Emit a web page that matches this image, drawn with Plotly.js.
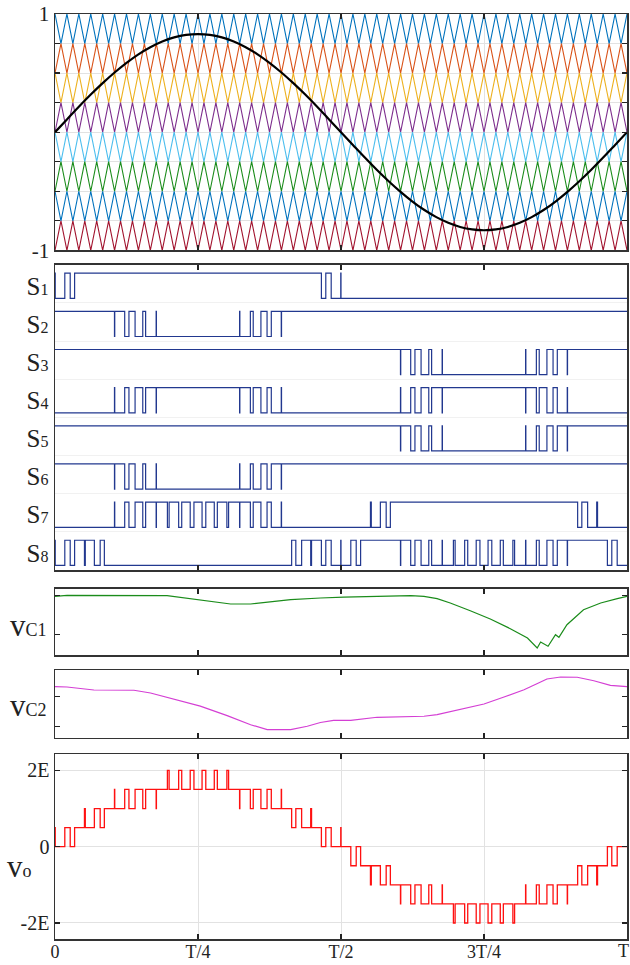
<!DOCTYPE html>
<html><head><meta charset="utf-8">
<script src="https://cdn.plot.ly/plotly-3.0.1.min.js"></script>
<style>body{margin:0;background:#fff}#chart{width:630px;height:965px}</style>
</head><body><div id="chart"></div>
<script>
// ---------- data ----------
const carrierCycles = 48;                       // carrier periods per fundamental period T
const carrierLow = [0.75, 0.5, 0.25, 0, -0.25, -0.5, -0.75, -1];
const carrierBottomPhase = [0.5, 0, 0.5, 0, 0.5, 0, 0.5, 0];   // where each carrier touches its lower edge
const carrierColors = ['#0072BD', '#D95319', '#EDB120', '#7E2F8E', '#4DBEEE', '#1b8c1b', '#0072BD', '#A2142F'];

// reference sine, one sample per carrier period (t = k/48)
const refValues = [0, .108, .215, .318, .415, .505, .587, .659, .719, .767, .802, .823, .830, .823, .802, .767, .719, .659, .587, .505, .415, .318, .215, .108, 0,
  -.108, -.215, -.318, -.415, -.505, -.587, -.659, -.719, -.767, -.802, -.823, -.830, -.823, -.802, -.767, -.719, -.659, -.587, -.505, -.415, -.318, -.215, -.108, 0];

// output voltage steps: [time in carrier periods, level in E]
const voSteps = [
 [0,0.5],[0.02,0],[0.822,0.5],[1.276,0],[1.646,0.5],[2.472,1],[2.542,0.5],[3.304,1],[3.791,0.5],[4.142,1],
 [4.991,1.5],[5.013,1],[5.849,1.5],[6.205,1],[6.72,1.5],[7.365,1],[7.605,1.5],[8.488,1],[8.51,1.5],
 [9.433,2],[9.577,1.5],[10.377,2],[10.634,1.5],[11.346,2],[11.659,1.5],[12.341,2],[12.654,1.5],[13.366,2],[13.623,1.5],[14.423,2],[14.567,1.5],
 [15.49,1],[15.512,1.5],[16.395,1],[16.635,1.5],[17.28,1],[17.795,1.5],[18.151,1],[18.987,1.5],[19.009,1],
 [19.858,0.5],[20.209,1],[20.696,0.5],[21.458,1],[21.528,0.5],[22.354,0],[22.724,0.5],[23.178,0],[23.98,0.5],[24.0,0],
 [24.822,-0.5],[25.276,0],[25.646,-0.5],[26.472,-1],[26.542,-0.5],[27.304,-1],[27.791,-0.5],[28.142,-1],
 [28.991,-1.5],[29.013,-1],[29.849,-1.5],[30.205,-1],[30.72,-1.5],[31.365,-1],[31.605,-1.5],[32.488,-1],[32.51,-1.5],
 [33.433,-2],[33.577,-1.5],[34.377,-2],[34.634,-1.5],[35.346,-2],[35.659,-1.5],[36.341,-2],[36.654,-1.5],[37.366,-2],[37.623,-1.5],[38.423,-2],[38.567,-1.5],
 [39.49,-1],[39.512,-1.5],[40.395,-1],[40.635,-1.5],[41.28,-1],[41.795,-1.5],[42.151,-1],[42.987,-1.5],[43.009,-1],
 [43.858,-0.5],[44.209,-1],[44.696,-0.5],[45.458,-1],[45.528,-0.5],[46.354,0],[46.724,-0.5],[47.178,0]
];

// switch states for every output level
const voLevelOrder = [2, 1.5, 1, 0.5, 0, -0.5, -1, -1.5, -2];
const switchNames = ['S1','S2','S3','S4','S5','S6','S7','S8'];
const switchStates = [
 [1,1,1,1,0,0,0,0,0],
 [0,0,1,1,1,1,1,1,1],
 [1,1,1,1,1,1,1,0,0],
 [1,1,0,0,0,0,0,1,1],
 [1,1,1,1,1,1,1,0,0],
 [0,0,1,1,1,1,1,1,1],
 [0,1,0,0,0,0,1,1,1],
 [0,0,0,1,0,1,1,0,1]
];

// capacitor voltages (normalised panel units)
const vc1T = [0, .021, .196, .219, .243, .260, .284, .307, .342, .371, .412, .464, .505, .622, .645, .668, .691, .726, .761, .796, .826, .843, .849, .862, .875, .881, .895, .924, .954, .983, 1];
const vc1V = [.886, .901, .895, .871, .845, .830, .800, .770, .770, .800, .835, .860, .875, .895, .886, .850, .785, .670, .545, .400, .260, .110, .200, .135, .309, .270, .459, .685, .785, .850, .886];
const vc2T = [0, .021, .068, .138, .167, .208, .254, .301, .342, .371, .412, .441, .464, .487, .517, .563, .645, .668, .709, .750, .785, .820, .849, .860, .884, .913, .942, .971, 1];
const vc2V = [.758, .753, .709, .705, .665, .570, .470, .330, .196, .123, .123, .173, .229, .261, .261, .306, .321, .344, .418, .502, .606, .713, .827, .871, .901, .897, .846, .778, .758];

const xTickVals = [0, 0.25, 0.5, 0.75, 1];
const xTickText = ['0', 'T/4', 'T/2', '3T/4', 'T'];
const voTickText = ['-2E', '0', '2E'];

// ---------- build traces ----------
const traces = [];
for (let b = 0; b < carrierLow.length; b++) {
  const xs = [], ys = [];
  for (let k = 0; k <= 2 * carrierCycles; k++) {
    const u = k / 2;
    const atBottom = Math.abs(((u - carrierBottomPhase[b]) % 1 + 1) % 1) < 1e-9;
    xs.push(u / carrierCycles);
    ys.push(atBottom ? carrierLow[b] : carrierLow[b] + 0.25);
  }
  traces.push({x: xs, y: ys, xaxis: 'x', yaxis: 'y', mode: 'lines', line: {color: carrierColors[b], width: 1.1}, hoverinfo: 'skip'});
}
traces.push({x: refValues.map((v, i) => i / carrierCycles), y: refValues, xaxis: 'x', yaxis: 'y', mode: 'lines',
  line: {color: '#000', width: 2.2, shape: 'spline'}});

const voX = voSteps.map(s => s[0] / carrierCycles).concat([1]);
const voY = voSteps.map(s => s[1]).concat([voSteps[voSteps.length - 1][1]]);

const rowLow = 0.12, rowAmp = 0.66;
for (let j = 0; j < 8; j++) {
  const base = 8 - (j + 1) + rowLow;
  const ys = voY.map(l => base + rowAmp * switchStates[j][voLevelOrder.indexOf(l)]);
  traces.push({x: voX, y: ys, xaxis: 'x2', yaxis: 'y2', mode: 'lines', line: {color: '#22388f', width: 1.2, shape: 'hv'}});
}
traces.push({x: vc1T, y: vc1V, xaxis: 'x3', yaxis: 'y3', mode: 'lines', line: {color: '#1b8c1b', width: 1.2}});
traces.push({x: vc2T, y: vc2V, xaxis: 'x4', yaxis: 'y4', mode: 'lines', line: {color: '#d43fd4', width: 1.2}});
traces.push({x: voX, y: voY, xaxis: 'x5', yaxis: 'y5', mode: 'lines', line: {color: '#ff1010', width: 1.3, shape: 'hv'}});

// ---------- layout ----------
const FONT = 'Liberation Serif, DejaVu Serif, serif';
function xAx(yName, labels, grid) {
  return {anchor: yName, range: [0, 1], showline: true, mirror: 'ticks', linecolor: '#333', linewidth: 1.5,
    ticks: 'inside', ticklen: 5, tickwidth: 1.3, tickcolor: '#222',
    tickvals: labels ? xTickVals.slice(0, 4) : xTickVals.slice(1, 4), ticktext: labels ? xTickText.slice(0, 4) : undefined,
    showticklabels: !!labels, tickfont: {size: 18, family: FONT, color: '#222'},
    ticklabelstandoff: -4,
    showgrid: grid, gridcolor: '#e2e2e2', gridwidth: 1, zeroline: false, fixedrange: true};
}
function yAx(domain, range, extra) {
  return Object.assign({domain: domain, range: range, showline: true, mirror: 'ticks', linecolor: '#333', linewidth: 1.5,
    ticks: 'inside', ticklen: 5, tickwidth: 1.3, tickcolor: '#222', zeroline: false, fixedrange: true,
    tickfont: {size: 20, family: FONT, color: '#222'}, showgrid: false}, extra);
}
const rowCenters = switchNames.map((n, j) => 8 - (j + 1) + rowLow + rowAmp / 2);
const rowLabels = switchNames.map(n => 'S<span style="font-size:16px">' + n.slice(1) + '</span>');

const layout = {
  width: 630, height: 965, margin: {l: 55, r: 3, t: 14, b: 26},
  paper_bgcolor: '#fff', plot_bgcolor: '#fff', showlegend: false,
  font: {family: FONT, color: '#222'},
  xaxis: xAx('y', false, true),
  xaxis2: xAx('y2', false, false),
  xaxis3: xAx('y3', false, false),
  xaxis4: xAx('y4', false, false),
  xaxis5: xAx('y5', true, true),
  yaxis: yAx([0.7445, 1], [-1, 1], {tickvals: [-1, -.75, -.5, -.25, 0, .25, .5, .75, 1],
    ticktext: ['-1', '', '', '', '', '', '', '', '1'], showgrid: true, gridcolor: '#e2e2e2', tickfont: {size: 21, family: FONT, color: '#222'}}),
  yaxis2: yAx([0.3989, 0.7289], [0, 8], {tickvals: rowCenters, ticktext: rowLabels, ticks: '',
    tickfont: {size: 25, family: FONT, color: '#222'},
    minor: {tick0: 0, dtick: 1, showgrid: true, gridcolor: '#f1f1f1', ticks: ''}}),
  yaxis3: yAx([0.3067, 0.3787], [0, 1], {tickvals: [0.309, 0.9], showticklabels: false}),
  yaxis4: yAx([0.2173, 0.2905], [0, 1], {tickvals: [0.173, 0.616], showticklabels: false}),
  yaxis5: yAx([0, 0.2], [-2.42, 2.43], {tickvals: [-2, 0, 2], ticktext: voTickText, showgrid: true, gridcolor: '#e2e2e2'}),
  annotations: [
    {xref: 'paper', yref: 'paper', x: -0.047, y: 0.3384, xanchor: 'center', yanchor: 'middle', showarrow: false,
     text: 'v<span style="font-size:18px">C1</span>', font: {size: 31, family: FONT, color: '#222'}},
    {xref: 'paper', yref: 'paper', x: -0.047, y: 0.2519, xanchor: 'center', yanchor: 'middle', showarrow: false,
     text: 'v<span style="font-size:18px">C2</span>', font: {size: 31, family: FONT, color: '#222'}},
    {xref: 'paper', yref: 'paper', x: -0.062, y: 0.0789, xanchor: 'center', yanchor: 'middle', showarrow: false,
     text: 'v<span style="font-size:18px">o</span>', font: {size: 31, family: FONT, color: '#222'}},
    {xref: 'x5', yref: 'paper', x: xTickVals[4], y: 0, yshift: -12, xshift: -4, xanchor: 'center', yanchor: 'middle', showarrow: false,
     text: xTickText[4], font: {size: 18, family: FONT, color: '#222'}}
  ]
};
Plotly.newPlot('chart', traces, layout, {staticPlot: true, displayModeBar: false});
</script>
</body></html>
